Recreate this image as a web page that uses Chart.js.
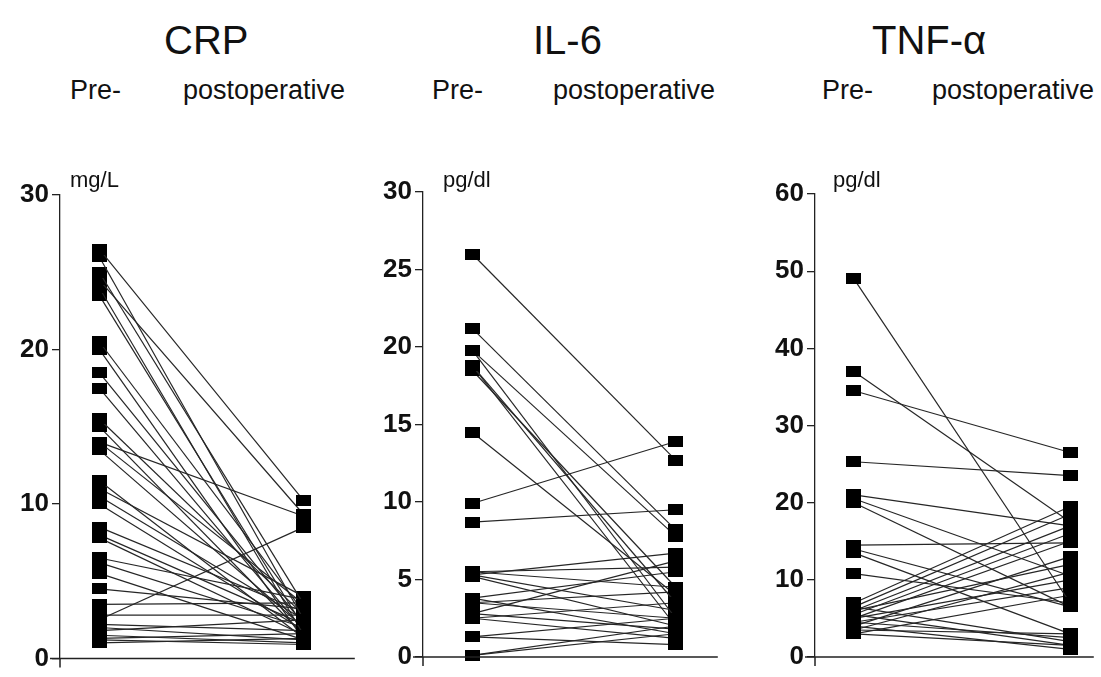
<!DOCTYPE html>
<html>
<head>
<meta charset="utf-8">
<script src="https://cdn.jsdelivr.net/npm/chart.js@4.4.0/dist/chart.umd.min.js"></script>
<style>
  body { margin: 0; background: #fff; width: 1101px; height: 677px; overflow: hidden; position: relative; font-family: "Liberation Sans", Arial, sans-serif; color: #111; }
  canvas { position: absolute; }
  .lbl { position: absolute; white-space: nowrap; line-height: 1; }
  .title { font-size: 40px; }
  .sub { font-size: 27px; }
  .unit { font-size: 22px; }
</style>
</head>
<body>
<canvas id="crpChart"></canvas>
<canvas id="il6Chart"></canvas>
<canvas id="tnfChart"></canvas>

<div class="lbl title" style="left:164px;top:20px">CRP</div>
<div class="lbl title" style="left:533px;top:20px">IL-6</div>
<div class="lbl title" style="left:872px;top:20px">TNF-α</div>

<div class="lbl sub" style="left:70px;top:77px">Pre-</div>
<div class="lbl sub" style="left:183px;top:77px">postoperative</div>
<div class="lbl sub" style="left:432px;top:77px">Pre-</div>
<div class="lbl sub" style="left:553px;top:77px">postoperative</div>
<div class="lbl sub" style="left:822px;top:77px">Pre-</div>
<div class="lbl sub" style="left:932px;top:77px">postoperative</div>

<div class="lbl unit" style="left:70px;top:169px">mg/L</div>
<div class="lbl unit" style="left:443px;top:169px">pg/dl</div>
<div class="lbl unit" style="left:833px;top:169px">pg/dl</div>

<script>
// paired values, pre- and postoperative, one entry per patient
const crpPre  = [26.5, 26, 25, 24.5, 24, 23.5, 20.5, 20, 18.5, 17.5, 15.5, 15, 14, 14, 13.5, 11.5, 11, 10.5, 10, 8.5, 8, 7.8, 6.5, 6.2, 5.5, 4.5, 3.5, 2.8, 2.5, 2.2, 2, 1.8, 1.5, 1.3, 1.2, 1];
const crpPost = [10.2, 2.5, 3.5, 9.3, 1.5, 2, 3, 1.2, 2.2, 1.8, 2.8, 1.5, 9.2, 3.5, 2, 1.3, 4, 2.5, 1.8, 3, 2.2, 1.5, 3.8, 2, 1.2, 3.2, 3.6, 2.8, 8.5, 1.8, 1.2, 2.5, 1, 1.6, 0.9, 1.3];

const il6Pre  = [26, 21.2, 19.8, 19.8, 18.8, 18.8, 18.5, 14.5, 9.9, 8.7, 5.5, 5.5, 5.3, 5.3, 5.2, 3.8, 3.8, 3.5, 3.5, 2.8, 2.8, 2.5, 2.5, 1.3, 1.3, 0.1, 0.1];
const il6Post = [12.7, 8.2, 7.8, 2.5, 3.5, 2, 4.5, 4, 13.9, 9.5, 5.8, 4.5, 6.7, 3, 2, 5.5, 1.5, 4.2, 2.5, 6.2, 1.8, 3.5, 1.2, 2.5, 0.8, 2, 1.5];

const tnfPre  = [49, 37, 34.5, 25.3, 21, 20.5, 20, 14.5, 14, 13.5, 10.8, 7, 6.5, 6.5, 6, 6, 5.5, 5.5, 5, 5, 4.5, 4.5, 4, 4, 3.5, 3.5, 3, 3];
const tnfPost = [7, 17.5, 26.5, 23.5, 17, 10.5, 6.5, 14.8, 6.5, 3, 7, 19.5, 18.5, 2, 17, 12, 16, 1.5, 15, 10, 9, 2.5, 13, 1, 11, 3, 8, 1.5];

const yMax  = { crp: 30, il6: 30, tnf: 60 };
const yStep = { crp: 10, il6: 5, tnf: 10 };

// black rectangle marker
const marker = document.createElement('canvas');
marker.width = 15; marker.height = 11;
const mctx = marker.getContext('2d');
mctx.fillStyle = '#000';
mctx.fillRect(0, 0, 15, 11);

const axisExtras = {
    id: 'axisExtras',
    afterDraw(chart) {
        const { ctx, chartArea, scales } = chart;
        const y0 = scales.y.getPixelForValue(0);
        ctx.save();
        ctx.strokeStyle = '#222';
        ctx.lineWidth = 1.5;
        ctx.beginPath();
        ctx.moveTo(chartArea.left - 10, y0);
        ctx.lineTo(chartArea.right, y0);
        ctx.moveTo(chartArea.left, chartArea.bottom);
        ctx.lineTo(chartArea.left, chartArea.bottom + 9);
        ctx.stroke();
        ctx.restore();
    }
};

function makePanel(id, pre, post, key, box) {
    const cv = document.getElementById(id);
    const canvasTop = 150;
    const left = box.axisX - 60;
    cv.width = box.right - left;
    cv.height = 677 - canvasTop;
    cv.style.left = left + 'px';
    cv.style.top = canvasTop + 'px';

    const datasets = pre.map((p, i) => ({
        data: [{ x: 0, y: p }, { x: 1, y: post[i] }],
        borderColor: '#262626',
        borderWidth: 1.2,
        pointStyle: marker,
        pointRadius: 6,
        clip: false
    }));

    new Chart(cv.getContext('2d'), {
        type: 'line',
        data: { datasets: datasets },
        options: {
            responsive: false,
            animation: false,
            layout: { padding: { left: 0, right: 0, top: box.top - canvasTop, bottom: cv.height - (box.bottom - canvasTop) } },
            scales: {
                x: { type: 'linear', display: false, min: box.xMin, max: box.xMax },
                y: {
                    min: 0,
                    max: yMax[key],
                    afterFit: s => { s.width = 60; },
                    ticks: {
                        stepSize: yStep[key],
                        color: '#111',
                        padding: 3,
                        font: { family: '"Liberation Sans", Arial, sans-serif', size: 26, weight: 'bold' }
                    },
                    grid: { drawOnChartArea: false, drawTicks: true, tickLength: 8, color: '#222', lineWidth: 1.3 },
                    border: { display: true, color: '#222', width: 1.3 }
                }
            },
            plugins: { legend: { display: false }, tooltip: { enabled: false } }
        },
        plugins: [axisExtras]
    });
}

makePanel('crpChart', crpPre, crpPost, 'crp', { axisX: 60,  right: 362,  top: 195, bottom: 660, xMin: -0.192, xMax: 1.249 });
makePanel('il6Chart', il6Pre, il6Post, 'il6', { axisX: 423, right: 725,  top: 192, bottom: 657, xMin: -0.242, xMax: 1.207 });
makePanel('tnfChart', tnfPre, tnfPost, 'tnf', { axisX: 815, right: 1101, top: 194, bottom: 657, xMin: -0.18,  xMax: 1.109 });
</script>
</body>
</html>
